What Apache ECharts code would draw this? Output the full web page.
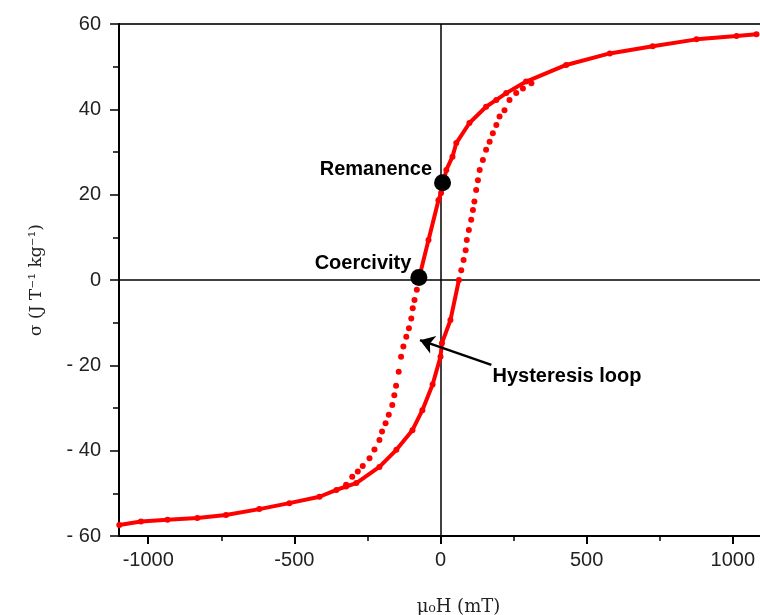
<!DOCTYPE html>
<html>
<head>
<meta charset="utf-8">
<title>Hysteresis loop</title>
<script src="https://cdn.jsdelivr.net/npm/echarts@6/dist/echarts.min.js"></script>
<style>
  html, body { margin: 0; padding: 0; background: #fff; }
  #chart { width: 760px; height: 615px; }
</style>
</head>
<body>
<div id="chart"></div>
<script>
// field H (mT) vs sigma
// descending branch (coming down from +H), solid part
const descendingSolid = [
  [1081, 57.6], [1013, 57.2], [876, 56.4], [726, 54.8], [579, 53.1], [430, 50.4],
  [293, 46.5], [225, 43.8], [191, 42.2], [156, 40.6], [99, 36.8], [54, 32.1],
  [41, 28.9], [20, 25.8], [2, 20.4], [-7, 18.7], [-41, 9.4], [-75, 0]
];
// descending branch, dotted part
const descendingDotted = [
  [-81, -2.3], [-89, -4.7], [-95, -6.6], [-100, -9.0], [-108, -11.3], [-117, -13.3],
  [-127, -15.6], [-135, -18.0], [-143, -21.5], [-152, -24.8], [-158, -27.0],
  [-165, -29.3], [-177, -31.6], [-188, -33.6], [-200, -35.5], [-209, -37.5],
  [-226, -39.7], [-243, -41.8], [-266, -43.6], [-283, -44.9], [-302, -46.1], [-323, -48.0]
];
// ascending branch (coming up from -H), solid part
const ascendingSolid = [
  [-1099, -57.4], [-1025, -56.6], [-934, -56.2], [-832, -55.8], [-734, -55.1],
  [-620, -53.7], [-517, -52.3], [-414, -50.8], [-356, -49.2], [-323, -48.4],
  [-288, -47.6], [-209, -43.8], [-151, -39.8], [-96, -35.2], [-62, -30.5],
  [-27, -24.5], [0, -18.0], [5, -14.8], [34, -9.4], [63, 0]
];
// ascending branch, dotted part
const ascendingDotted = [
  [71, 2.3], [79, 4.7], [86, 7.0], [90, 9.4], [97, 11.7], [105, 14.1], [111, 16.4],
  [116, 18.4], [122, 21.1], [128, 23.4], [134, 25.8], [145, 28.1], [156, 30.5],
  [168, 32.4], [179, 34.4], [191, 36.3], [202, 38.3], [219, 39.8], [236, 42.2],
  [259, 43.8], [282, 44.9], [311, 46.1]
];

const remanence = [7, 22.8];
const coercivity = [-74, 0.6];
const loopLabelAt = [178, -22.7];
const arrowFrom = [174, -19.9];
const arrowTo = [-70, -14.1];

const xLabelValues = [-1000, -500, 0, 500, 1000];
const xMinorValues = [-750, -250, 250, 750];

const RED = '#ff0000';
const labelFont = 'Liberation Sans, Arial, sans-serif';
const titleFont = 'DejaVu Serif, serif';

const chart = echarts.init(document.getElementById('chart'));

chart.setOption({
  animation: false,
  grid: {
    left: 119, top: 24, width: 643, bottom: 79,
    outerBoundsMode: 'none',
    show: true, borderColor: '#333', borderWidth: 2, backgroundColor: 'transparent'
  },
  xAxis: [{
    type: 'value',
    min: -1100, max: 1100,
    position: 'bottom',
    name: 'μ₀H (mT)',
    nameLocation: 'middle',
    nameGap: 62,
    nameTextStyle: { fontFamily: titleFont, fontSize: 18, color: '#222', padding: [0, 0, 0, 36] },
    axisLine: { onZero: false, lineStyle: { color: '#000', width: 2 } },
    axisTick: { customValues: xLabelValues, length: 8, lineStyle: { color: '#000', width: 2 } },
    axisLabel: {
      customValues: xLabelValues, margin: 14, fontFamily: labelFont, fontSize: 20, color: '#222',
      formatter: v => String(v)
    },
    splitLine: { show: false }
  }, {
    type: 'value',
    min: -1100, max: 1100,
    position: 'bottom',
    axisLine: { show: false, onZero: false },
    axisTick: { customValues: xMinorValues, length: 5, lineStyle: { color: '#000', width: 1.5 } },
    axisLabel: { show: false },
    splitLine: { show: false }
  }],
  yAxis: {
    type: 'value',
    min: -60, max: 60, interval: 20,
    name: 'σ (J T⁻¹ kg⁻¹)',
    nameLocation: 'middle',
    nameGap: 74,
    nameTextStyle: { fontFamily: titleFont, fontSize: 17, color: '#222' },
    axisLine: { onZero: false, lineStyle: { color: '#000', width: 2 } },
    axisTick: { length: 9, lineStyle: { color: '#000', width: 1.5 } },
    minorTick: { show: true, splitNumber: 2, length: 6, lineStyle: { color: '#000', width: 1.5 } },
    axisLabel: {
      margin: 18, fontFamily: labelFont, fontSize: 20, color: '#222',
      formatter: v => (v < 0 ? '- ' + (-v) : String(v))
    },
    splitLine: { show: false }
  },
  series: [
    {
      type: 'line',
      data: descendingSolid,
      symbol: 'circle', symbolSize: 6,
      itemStyle: { color: RED, opacity: 1 },
      lineStyle: { color: RED, width: 4 },
      z: 3,
      markLine: {
        silent: true,
        symbol: 'none',
        label: { show: false },
        lineStyle: { color: '#000', width: 1.5, type: 'solid' },
        data: [{ xAxis: 0 }, { yAxis: 0 }],
        z: 1
      }
    },
    {
      type: 'line',
      data: ascendingSolid,
      symbol: 'circle', symbolSize: 6,
      itemStyle: { color: RED, opacity: 1 },
      lineStyle: { color: RED, width: 4 },
      z: 3
    },
    {
      type: 'scatter',
      data: descendingDotted,
      symbol: 'circle', symbolSize: 6,
      itemStyle: { color: RED, opacity: 1 },
      z: 3
    },
    {
      type: 'scatter',
      data: ascendingDotted,
      symbol: 'circle', symbolSize: 6,
      itemStyle: { color: RED, opacity: 1 },
      z: 3
    },
    {
      type: 'scatter',
      symbolSize: 17,
      itemStyle: { color: '#000', opacity: 1 },
      z: 5,
      label: {
        show: true, position: 'left', distance: 2, offset: [0, -13],
        fontFamily: labelFont, fontSize: 20, fontWeight: 'bold', color: '#000',
        formatter: p => p.name
      },
      data: [
        { name: 'Remanence', value: remanence },
        { name: 'Coercivity', value: coercivity, label: { distance: 0, offset: [1, -14] } }
      ]
    },
    {
      type: 'scatter',
      symbolSize: 0,
      z: 5,
      itemStyle: { opacity: 1 },
      label: {
        show: true, position: 'right', distance: 0,
        fontFamily: labelFont, fontSize: 20, fontWeight: 'bold', color: '#000',
        formatter: 'Hysteresis loop'
      },
      data: [loopLabelAt],
      markLine: {
        silent: true,
        symbolSize: 14,
        label: { show: false },
        lineStyle: { color: '#000', width: 2.5, type: 'solid' },
        data: [[
          { coord: arrowFrom, symbol: 'none' },
          { coord: arrowTo, symbol: 'arrow' }
        ]]
      }
    }
  ]
});

window.addEventListener('resize', () => chart.resize());
</script>
</body>
</html>
